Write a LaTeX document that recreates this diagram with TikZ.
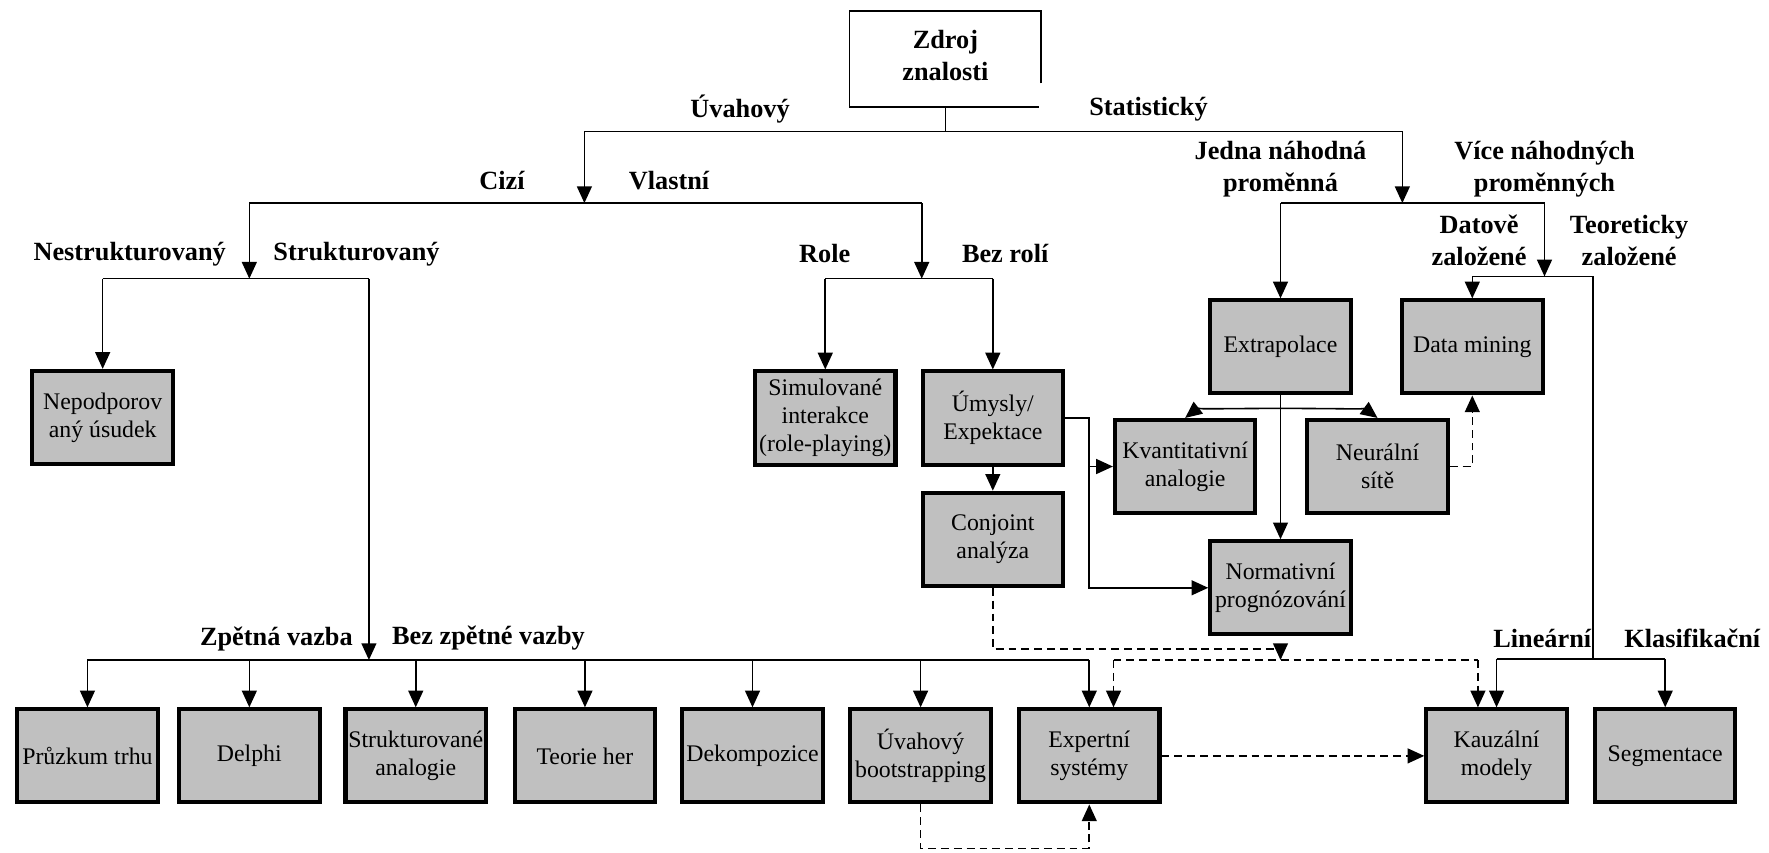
\documentclass[tikz,border=0pt]{standalone}
\usepackage{fontspec}
\setmainfont{Liberation Serif}
\usetikzlibrary{arrows.meta}
\definecolor{boxgray}{RGB}{192,192,192}
\begin{document}
\begin{tikzpicture}[x=0.5pt,y=-0.5pt,
  ln/.style={line width=0.7pt},
  arr/.style={ln,-{Triangle[length=7.4pt,width=6.6pt]}},
  dln/.style={ln,dash pattern=on 3.5pt off 2.2pt},
  darr/.style={arr,dash pattern=on 3.5pt off 2.2pt},
  box/.style={draw=black,line width=1.8pt,fill=boxgray,
    minimum width=62.25pt,minimum height=41.25pt,inner sep=0pt,
    align=center,font=\fontsize{10.55}{12.5}\selectfont},
  lbl/.style={inner sep=0pt,align=center,
    font=\fontsize{11.65}{14}\selectfont\bfseries},
]
\useasboundingbox (0,0) rectangle (1568,756);

% root box (its lower right corner is left open)
\node[lbl,minimum width=85pt,minimum height=46pt] (zdroj) at (838,49) {Zdroj\\znalosti};
\draw[line width=0.75pt] (923,74) -- (923,10) -- (753,10) -- (753,95) -- (921,95);

% method boxes
\node[box] (pruzkum) at (77.5,670) {Průzkum trhu};
\node[box] (delphi)  at (221,670)  {Delphi};
\node[box] (strukt)  at (368.5,670) {Strukturované\\analogie};
\node[box] (teorie)  at (518.5,670) {Teorie her};
\node[box] (dekomp)  at (667,670)  {Dekompozice};
\node[box] (uvboot)  at (816,670)  {Úvahový\\bootstrapping};
\node[box] (expert)  at (965.5,670) {Expertní\\systémy};
\node[box] (kauz)    at (1326.5,670) {Kauzální\\modely};
\node[box] (segm)    at (1476,670) {Segmentace};

\node[box] (nepod)  at (91,370)    {Nepodporov\\aný úsudek};
\node[box] (simul)  at (731.5,370.5) {Simulované\\interakce\\(role-playing)};
\node[box] (umysly) at (880,370.5) {Úmysly/\\Expektace};
\node[box] (conj)   at (880,478)   {Conjoint\\analýza};
\node[box] (extrap) at (1135,307.5) {Extrapolace};
\node[box] (dm)     at (1305,307.5) {Data mining};
\node[box] (kvant)  at (1050.5,413.5) {Kvantitativní\\analogie};
\node[box] (neural) at (1221,413.5) {Neurální\\sítě};
\node[box] (norm)   at (1135,521)  {Normativní\\prognózování};

% branch labels
\node[lbl] (uvahovy) at (656,97)   {Úvahový};
\node[lbl] (statist) at (1018,97)  {Statistický};
\node[lbl] (cizi)    at (445,160)  {Cizí};
\node[lbl] (vlastni) at (593,160)  {Vlastní};
\node[lbl] (jedna)   at (1135,150) {Jedna náhodná\\proměnná};
\node[lbl] (vice)    at (1369,150) {Více náhodných\\proměnných};
\node[lbl] (nestr)   at (115,225)  {Nestrukturovaný};
\node[lbl] (strl)    at (316,225)  {Strukturovaný};
\node[lbl] (role)    at (731,225)  {Role};
\node[lbl] (bezrol)  at (891,225)  {Bez rolí};
\node[lbl] (datove)  at (1311,213) {Datově\\založené};
\node[lbl] (teoret)  at (1444,213) {Teoreticky\\založené};
\node[lbl] (zpet)    at (245,566)  {Zpětná vazba};
\node[lbl] (bezzp)   at (433,566)  {Bez zpětné vazby};
\node[lbl] (linear)  at (1367,566) {Lineární};
\node[lbl] (klasif)  at (1500,566) {Klasifikační};

% junction points
\coordinate (j0)  at (838,116.5);
\coordinate (uvL) at (518,116.5);
\coordinate (stR) at (1243,116.5);
\coordinate (cvM) at (518,180);
\coordinate (cvL) at (221,180);
\coordinate (cvR) at (817,180);
\coordinate (nsM) at (221,247);
\coordinate (nsL) at (91,247);
\coordinate (nsR) at (327,247);
\coordinate (zvM) at (327,585);
\coordinate (zvL) at (77.5,585);
\coordinate (zvR) at (965.5,585);
\coordinate (rbM) at (817,247);
\coordinate (rbL) at (731.5,247);
\coordinate (rbR) at (880,247);
\coordinate (uvx) at (965,370.5);
\coordinate (stM) at (1243,180);
\coordinate (jvL) at (1135,180);
\coordinate (jvR) at (1369,180);
\coordinate (dtM) at (1369,245);
\coordinate (dtR) at (1412,245);
\coordinate (lkM) at (1412,584);
\coordinate (exb) at (1135,362);
\coordinate (cjM) at (1135,575.5);
\coordinate (dsM) at (1135,585);
\coordinate (dsL) at (987,585);
\coordinate (dsR) at (1310,585);
\coordinate (ubL) at (816,752);

% judgmental tree
\draw[ln] (zdroj.south) -- (j0);
\draw[ln] (uvL) -- (stR);
\draw[arr] (uvL) -- (cvM);
\draw[ln] (cvL) -- (cvR);
\draw[arr] (cvL) -- (nsM);
\draw[ln] (nsL) -- (nsR);
\draw[arr] (nsL) -- (nepod.north);
\draw[arr] (nsR) -- (zvM);
\draw[ln] (zvL) -- (zvR);
\foreach \n in {pruzkum,delphi,strukt,teorie,dekomp,uvboot,expert}
  \draw[arr] (\n.north |- zvL) -- (\n.north);
\draw[arr] (cvR) -- (rbM);
\draw[ln] (rbL) -- (rbR);
\draw[arr] (rbL) -- (simul.north);
\draw[arr] (rbR) -- (umysly.north);
\draw[arr] (umysly.south) -- (conj.north);
\draw[arr] (umysly.east) -- (uvx) |- (norm.west);
\draw[arr] (uvx |- kvant.west) -- (kvant.west);

% statistical tree
\draw[arr] (stR) -- (stM);
\draw[ln] (jvL) -- (jvR);
\draw[arr] (jvL) -- (extrap.north);
\draw[arr] (jvR) -- (dtM);
\draw[ln] (dm.north |- dtM) -- (dtR);
\draw[arr] (dm.north |- dtM) -- (dm.north);
\draw[ln] (dtR) -- (lkM);
\draw[ln] (kauz.north |- lkM) -- (segm.north |- lkM);
\draw[arr] (kauz.north |- lkM) -- (kauz.north);
\draw[arr] (segm.north |- lkM) -- (segm.north);
\draw[arr] (extrap.south) -- (norm.north);
\draw[arr] (exb) .. controls (1080,362) and (1060,363) .. (kvant.north);
\draw[arr] (exb) .. controls (1190,362) and (1211,363) .. (neural.north);

% dashed links
\draw[darr] (neural.east) -| (dm.south);
\draw[darr] (conj.south) |- (cjM) -- (dsM);
\draw[dln] (dsL) -- (dsR);
\draw[darr] (dsL) -- (dsL |- expert.north);
\draw[darr] (dsR) -- (dsR |- kauz.north);
\draw[darr] (expert.east) -- (kauz.west);
\draw[darr] (uvboot.south) -- (ubL) -| (expert.south);
\end{tikzpicture}
\end{document}
